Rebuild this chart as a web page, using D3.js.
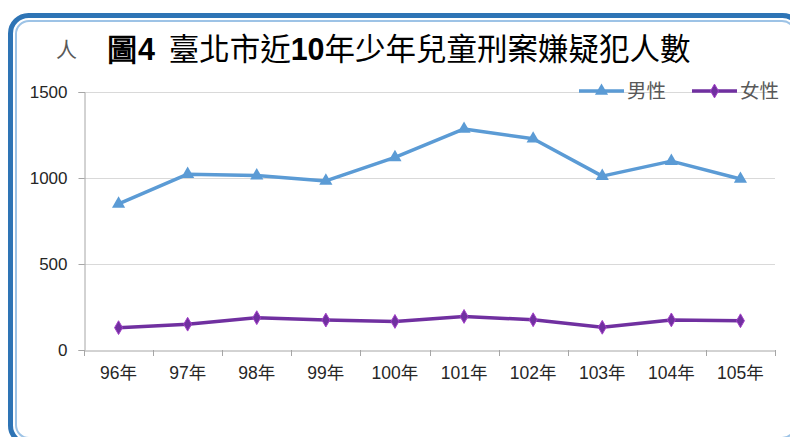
<!DOCTYPE html>
<html>
<head>
<meta charset="utf-8">
<script src="https://cdn.jsdelivr.net/npm/d3@7"></script>
<style>
  body { margin: 0; background: #fff; }
  svg { display: block; }
</style>
</head>
<body>
<div id="chart"></div>
<script>
// data
var years = ["96年", "97年", "98年", "99年", "100年", "101年", "102年", "103年", "104年", "105年"];
var male = [849, 1022, 1014, 983, 1120, 1285, 1228, 1011, 1098, 994];
var female = [130, 150, 188, 174, 166, 195, 176, 132, 175, 170];
var yTicks = [0, 500, 1000, 1500];
var seriesNames = ["男性", "女性"];

const W = 790, H = 437;
const margin = {top: 92, right: 15, bottom: 87, left: 84},
    width = W - margin.left - margin.right,
    height = H - margin.top - margin.bottom;

var svg = d3.select("#chart")
  .append("svg")
    .attr("width", W)
    .attr("height", H);

// frame with double blue border
svg.append("rect")
  .attr("x", 10.5).attr("y", 15.5)
  .attr("width", 790).attr("height", 428)
  .attr("rx", 18)
  .attr("fill", "none")
  .attr("stroke", "#2e74b5")
  .attr("stroke-width", 5);
svg.append("rect")
  .attr("x", 16).attr("y", 21)
  .attr("width", 779).attr("height", 417)
  .attr("rx", 13)
  .attr("fill", "none")
  .attr("stroke", "#9dc3e6")
  .attr("stroke-width", 2);

var g = svg.append("g")
  .attr("transform", `translate(${margin.left}, ${margin.top})`);

var x = d3.scaleBand().domain(years).range([0, width]);
var y = d3.scaleLinear().domain([0, 1500]).range([height, 0]);

// grid lines
g.selectAll(".grid")
  .data(yTicks.filter(d => d > 0))
  .join("line")
  .attr("class", "grid")
  .attr("x1", 0).attr("x2", width)
  .attr("y1", d => Math.round(y(d)) + 0.5)
  .attr("y2", d => Math.round(y(d)) + 0.5)
  .attr("stroke", "#d9d9d9");

// y axis
var yAxis = g.append("g")
  .attr("transform", "translate(0.5,0)")
  .call(d3.axisLeft(y).tickValues(yTicks).tickFormat(d3.format("d")).tickSize(6).tickPadding(11));
yAxis.select(".domain").attr("stroke", "#a6a6a6");
yAxis.selectAll(".tick line").attr("stroke", "#a6a6a6");
yAxis.selectAll("text")
  .attr("fill", "#262626")
  .style("font-family", "Liberation Sans, sans-serif")
  .style("font-size", "17px");

// x axis with ticks at category boundaries
var xAxis = g.append("g")
  .attr("transform", `translate(0, ${Math.round(height) + 0.5})`)
  .call(d3.axisBottom(x).tickSize(0).tickPadding(16));
xAxis.select(".domain").attr("stroke", "#a6a6a6");
xAxis.selectAll("text")
  .attr("fill", "#262626")
  .style("font-family", "Liberation Sans, 'Noto Sans CJK TC', sans-serif")
  .style("font-size", "17.5px");
g.append("g")
  .selectAll("line")
  .data(d3.range(years.length + 1))
  .join("line")
  .attr("x1", i => Math.round(i * x.step()) + 0.5)
  .attr("x2", i => Math.round(i * x.step()) + 0.5)
  .attr("y1", height)
  .attr("y2", height + 6)
  .attr("stroke", "#a6a6a6");

var cx = function(d, i) { return x(years[i]) + x.bandwidth() / 2; };
var line = d3.line().x(cx).y(d => y(d));

// male series
g.append("path")
  .datum(male)
  .attr("d", line)
  .attr("fill", "none")
  .attr("stroke", "#5b9bd5")
  .attr("stroke-width", 3.5)
  .attr("stroke-linejoin", "round");
g.append("g")
  .selectAll("path")
  .data(male)
  .join("path")
  .attr("d", d3.symbol(d3.symbolTriangle, 75))
  .attr("transform", (d, i) => `translate(${cx(d, i)}, ${y(d)})`)
  .attr("fill", "#5b9bd5");

// female series
g.append("path")
  .datum(female)
  .attr("d", line)
  .attr("fill", "none")
  .attr("stroke", "#7030a0")
  .attr("stroke-width", 3.5)
  .attr("stroke-linejoin", "round");
g.append("g")
  .selectAll("path")
  .data(female)
  .join("path")
  .attr("d", d3.symbol(d3.symbolDiamond, 55))
  .attr("transform", (d, i) => `translate(${cx(d, i)}, ${y(d)})`)
  .attr("fill", "#7030a0")
  .attr("stroke", "#a340c8")
  .attr("stroke-width", 1);

// title and unit
svg.append("text")
  .attr("x", 56).attr("y", 57)
  .attr("fill", "#595959")
  .style("font-family", "'Noto Sans CJK TC', sans-serif")
  .style("font-size", "21px")
  .text("人");
svg.append("text")
  .attr("x", 107).attr("y", 60)
  .attr("fill", "#000")
  .style("font-family", "'Noto Sans CJK TC', sans-serif")
  .style("font-size", "30.5px")
  .attr("xml:space", "preserve")
  .style("white-space", "pre")
  .html('<tspan font-weight="bold" font-family="Liberation Sans, sans-serif">圖4</tspan>  臺北市近<tspan font-weight="bold" font-family="Liberation Sans, sans-serif">10</tspan>年少年兒童刑案嫌疑犯人數');

// legend
var legendColors = ["#5b9bd5", "#7030a0"];
var legendX = [579, 692];
var legend = svg.selectAll(".legend")
  .data(seriesNames)
  .join("g")
  .attr("class", "legend")
  .attr("transform", (d, i) => `translate(${legendX[i]}, 91)`);
legend.append("line")
  .attr("x1", 0).attr("x2", 45)
  .attr("stroke", (d, i) => legendColors[i])
  .attr("stroke-width", 3.5);
legend.append("path")
  .attr("transform", "translate(22.5, 0)")
  .attr("d", (d, i) => d3.symbol(i === 0 ? d3.symbolTriangle : d3.symbolDiamond, i === 0 ? 75 : 55)())
  .attr("fill", (d, i) => legendColors[i])
  .attr("stroke", (d, i) => i === 1 ? "#a340c8" : "none");
legend.append("text")
  .attr("x", 48).attr("y", 7)
  .attr("fill", "#595959")
  .style("font-family", "'Noto Sans CJK TC', sans-serif")
  .style("font-size", "19.5px")
  .text(d => d);
</script>
</body>
</html>
